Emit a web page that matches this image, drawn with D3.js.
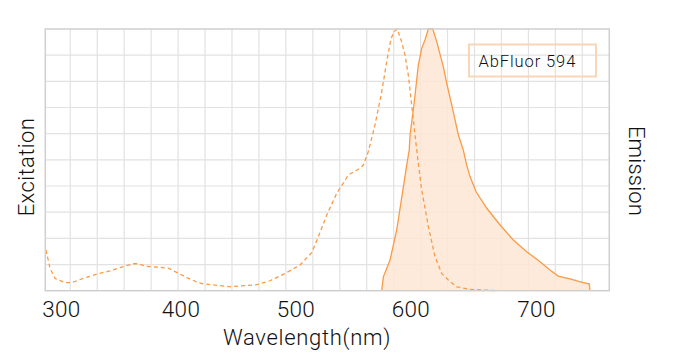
<!DOCTYPE html>
<html>
<head>
<meta charset="utf-8">
<script src="https://cdn.jsdelivr.net/npm/d3@7"></script>
<style>
  html, body { margin: 0; padding: 0; background: #fff; }
  svg { display: block; }
  text { font-family: Roboto, "Noto Sans", sans-serif; font-weight: 300; fill: #111; }
</style>
</head>
<body>
<svg id="chart" width="675" height="355"></svg>
<script>
// ---- data ----
const xTickValues = [300, 400, 500, 600, 700];
const seriesName = "AbFluor 594";

const excitationNm = [287.5, 290.9, 295.1, 303.4, 309, 318.7, 329.9, 341.1, 352.2, 360.5, 364.7, 371.7, 382.9, 389.8, 396.8, 405.4, 415.5, 419.9, 443.1, 466.4, 478, 491.1, 504.1, 514.2, 520, 527.3, 536, 546.1, 556.2, 559.1, 563.4, 564.9, 569.2, 575.1, 579.4, 583.2, 586, 588.6, 592.4, 595.3, 598.2, 601, 603.7, 605.8, 609, 614.3, 619.6, 624.9, 630.2, 636.9, 647.5, 668.8];
const excitationVal = [15.6, 8.6, 4.7, 3.1, 3.1, 4.7, 6.3, 7.6, 9.2, 10.3, 10.3, 9.3, 8.9, 8.6, 7.0, 5.0, 3.1, 2.6, 1.5, 2.3, 3.8, 6.6, 9.8, 14.5, 20.6, 28.9, 37.2, 44.2, 46.8, 48, 53.1, 55.7, 63.3, 76, 87.5, 96.4, 99, 100, 95.1, 90.1, 82.4, 71, 59.5, 50.6, 38.5, 24.5, 13, 6.6, 4.1, 1.5, 0.5, 0];

const emissionNm = [575.1, 576.5, 582.3, 588.1, 593.9, 596.8, 599.0, 599.7, 603.1, 606.3, 609, 611.6, 614.3, 617.8, 621, 626.2, 628.9, 632.9, 638.2, 642.1, 644.8, 647.5, 652.3, 660.8, 671.4, 681.9, 692.6, 703.2, 711.1, 717.7, 727, 737.6, 742.4, 743];
const emissionVal = [0, 5.3, 11.7, 23.2, 39.7, 48, 53.8, 59.5, 72.2, 86.2, 92.6, 95.8, 100, 100, 95.1, 85.6, 79.3, 71, 59.5, 53.8, 48, 43.6, 37.8, 31.5, 25.1, 19.4, 14.9, 11.1, 7.9, 5.6, 4.5, 3.1, 2.6, 0];

// ---- layout ----
const plot = { left: 45.3, right: 609.3, top: 29, bottom: 290.7 };
const lineColor = "#fb9a45";
const fillColor = "#fde6d3";

const svg = d3.select("#chart");

// x: wavelength axis (samples are not evenly spaced, so the axis is piecewise)
const x = d3.scaleLinear()
  .domain(xTickValues)
  .range([60.9, 180.5, 295.3, 410.4, 536]);
const y = d3.scaleLinear().domain([0, 100]).range([plot.bottom, plot.top]);

// vertical grid: evenly spaced divisions
const gridX = d3.scaleLinear().domain([0, 19]).range([70.3, 582.3]);

const grid = svg.append("g");
grid.selectAll("line.h")
  .data(y.ticks(10).filter(d => d > 0 && d < 100))
  .join("line")
  .attr("x1", plot.left).attr("x2", plot.right)
  .attr("y1", d => y(d)).attr("y2", d => y(d))
  .attr("stroke", "#e2e2e2").attr("stroke-width", 1.2);
grid.selectAll("line.v")
  .data(d3.range(20))
  .join("line")
  .attr("x1", d => gridX(d)).attr("x2", d => gridX(d))
  .attr("y1", plot.top).attr("y2", plot.bottom)
  .attr("stroke", "#e2e2e2").attr("stroke-width", 1.2);

// emission area + line
const emission = emissionNm.map((d, i) => [d, emissionVal[i]]);
const excitation = excitationNm.map((d, i) => [d, excitationVal[i]]);

svg.append("path")
  .datum(emission)
  .attr("d", d3.area().x(d => x(d[0])).y0(y(0)).y1(d => y(d[1])))
  .attr("fill", fillColor).attr("fill-opacity", 0.85);

svg.append("path")
  .datum(emission)
  .attr("d", d3.line().x(d => x(d[0])).y(d => y(d[1])))
  .attr("fill", "none").attr("stroke", lineColor).attr("stroke-width", 1.3);

svg.append("path")
  .datum(excitation)
  .attr("d", d3.line().x(d => x(d[0])).y(d => y(d[1])))
  .attr("fill", "none").attr("stroke", lineColor).attr("stroke-width", 1.3)
  .attr("stroke-dasharray", "4,3");

// frame
svg.append("rect")
  .attr("x", plot.left).attr("y", plot.top)
  .attr("width", plot.right - plot.left).attr("height", plot.bottom - plot.top)
  .attr("fill", "none").attr("stroke", "#cfcfcf").attr("stroke-width", 1.5);

// x axis labels
const xAxis = d3.axisBottom(x).tickValues(xTickValues).tickSize(0).tickPadding(0);
const gx = svg.append("g").attr("transform", `translate(0,${plot.bottom})`).call(xAxis);
gx.select(".domain").remove();
gx.selectAll("text")
  .attr("dy", null).attr("y", 26.5)
  .style("font-family", "Roboto, 'Noto Sans', sans-serif")
  .style("font-weight", 300)
  .style("font-size", "22.5px")
  .style("letter-spacing", "0.3px")
  .attr("fill", "#111");

// axis titles
svg.append("text")
  .attr("x", 307).attr("y", 345)
  .attr("text-anchor", "middle")
  .style("font-size", "22px")
  .style("letter-spacing", "0.7px")
  .text("Wavelength(nm)");

svg.append("text")
  .attr("transform", "translate(34,167) rotate(-90)")
  .attr("text-anchor", "middle")
  .style("font-size", "22px")
  .style("letter-spacing", "0.4px")
  .text("Excitation");

svg.append("text")
  .attr("transform", "translate(629,171) rotate(90)")
  .attr("text-anchor", "middle")
  .style("font-size", "22px")
  .style("letter-spacing", "0.2px")
  .text("Emission");

// legend
svg.append("rect")
  .attr("x", 469).attr("y", 44.5)
  .attr("width", 127).attr("height", 32)
  .attr("fill", "none").attr("stroke", "#f8d6b8").attr("stroke-width", 2);
svg.append("text")
  .attr("x", 478.5).attr("y", 67)
  .style("font-size", "16.5px")
  .style("letter-spacing", "0.9px")
  .text(seriesName);
</script>
</body>
</html>
